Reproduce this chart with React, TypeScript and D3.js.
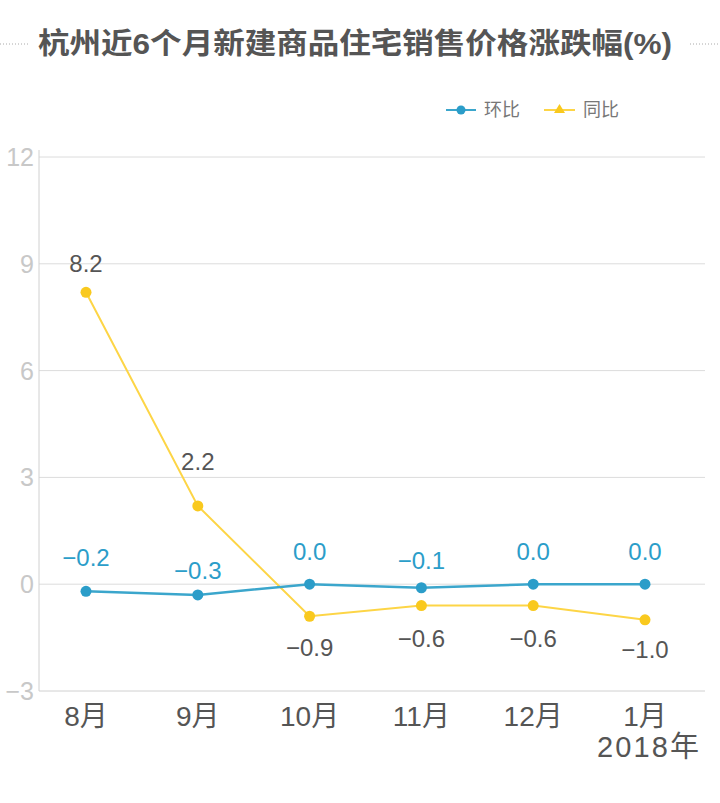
import React from "react";
import * as d3 from "d3";

const categories = ["8月", "9月", "10月", "11月", "12月", "1月"];
const huanbi = [-0.2, -0.3, 0.0, -0.1, 0.0, 0.0];
const tongbi = [8.2, 2.2, -0.9, -0.6, -0.6, -1.0];
const yTicks = [-3, 0, 3, 6, 9, 12];

// label offsets (px from point to label centre)
const huanbiLabelDy = [-34, -25, -33, -27, -33, -33];
const tongbiLabelDy = [-29, -45, 31, 33, 33, 30];

const W = 720;
const H = 803;
const FONT = "'Liberation Sans', Arial, 'Noto Sans CJK SC', sans-serif";
const BLUE = "#3ba6cc";
const BLUE_DOT = "#2b9dc9";
const YELLOW = "#fdd546";
const YELLOW_DOT = "#f9c91e";

export default function App() {
  const x = d3.scalePoint<string>().domain(categories).range([86, 645]);
  const y = d3.scaleLinear().domain([-3, 12]).range([691, 157]);
  const plotLeft = 39;
  const plotRight = 705;
  const line = d3
    .line<number>()
    .x((_, i) => x(categories[i]) as number)
    .y((d) => y(d));
  const fmt = (v: number) => (v < 0 ? "\u2212" + Math.abs(v).toFixed(1) : v.toFixed(1));
  const fmtTick = (v: number) => (v < 0 ? "\u2212" + Math.abs(v) : String(v));
  const LBL = 24;

  return (
    <svg
      width={W}
      height={H}
      style={{ position: "absolute", left: 0, top: 0, background: "#fff" }}
      fontFamily={FONT}
    >
      {/* title */}
      <line x1={0} x2={30} y1={44} y2={44} stroke="#aaa" strokeDasharray="1,2" />
      <line x1={690} x2={720} y1={44} y2={44} stroke="#aaa" strokeDasharray="1,2" />
      <text
        x={355}
        y={54}
        textAnchor="middle"
        fontSize={29}
        fontWeight="bold"
        fill="#555"
        textLength={634}
        lengthAdjust="spacingAndGlyphs"
      >
        杭州近6个月新建商品住宅销售价格涨跌幅(%)
      </text>

      {/* legend */}
      <g>
        <line x1={446} x2={476} y1={110} y2={110} stroke={BLUE} strokeWidth={2} />
        <circle cx={461} cy={110} r={4.5} fill={BLUE_DOT} />
        <text x={484} y={116} fontSize={18} fill="#777">环比</text>
        <line x1={544} x2={575} y1={110} y2={110} stroke={YELLOW} strokeWidth={2} />
        <path d="M559.5,104 L565,113 L554,113 Z" fill={YELLOW_DOT} />
        <text x={583} y={116} fontSize={18} fill="#777">同比</text>
      </g>

      {/* grid */}
      {yTicks.map((t) => (
        <g key={t}>
          <line
            x1={plotLeft}
            x2={plotRight}
            y1={y(t)}
            y2={y(t)}
            stroke={t === -3 ? "#d0d0d0" : "#dcdcdc"}
            strokeWidth={1}
          />
          <text x={34} y={y(t) + 9} textAnchor="end" fontSize={25} fill="#c8c8c8">
            {fmtTick(t)}
          </text>
        </g>
      ))}
      <line x1={plotLeft} x2={plotLeft} y1={150} y2={y(-3)} stroke="#d0d0d0" />

      {/* x labels */}
      {categories.map((c) => (
        <text key={c} x={x(c) as number} y={726} textAnchor="middle" fontSize={28} fill="#555">
          {c}
        </text>
      ))}
      <text
        x={648}
        y={757}
        textAnchor="middle"
        fontSize={29}
        fill="#555"
        textLength={102}
        lengthAdjust="spacing"
      >
        2018年
      </text>

      {/* 同比 */}
      <path d={line(tongbi) as string} fill="none" stroke={YELLOW} strokeWidth={2} />
      {tongbi.map((v, i) => (
        <circle key={i} cx={x(categories[i]) as number} cy={y(v)} r={5.5} fill={YELLOW_DOT} />
      ))}
      {tongbi.map((v, i) => (
        <text
          key={i}
          x={x(categories[i]) as number}
          y={y(v) + tongbiLabelDy[i] + LBL * 0.36}
          textAnchor="middle"
          fontSize={LBL}
          fill="#555"
        >
          {fmt(v)}
        </text>
      ))}

      {/* 环比 */}
      <path d={line(huanbi) as string} fill="none" stroke={BLUE} strokeWidth={2.5} />
      {huanbi.map((v, i) => (
        <circle key={i} cx={x(categories[i]) as number} cy={y(v)} r={5.5} fill={BLUE_DOT} />
      ))}
      {huanbi.map((v, i) => (
        <text
          key={i}
          x={x(categories[i]) as number}
          y={y(v) + huanbiLabelDy[i] + LBL * 0.36}
          textAnchor="middle"
          fontSize={LBL}
          fill={BLUE_DOT}
        >
          {fmt(v)}
        </text>
      ))}
    </svg>
  );
}
